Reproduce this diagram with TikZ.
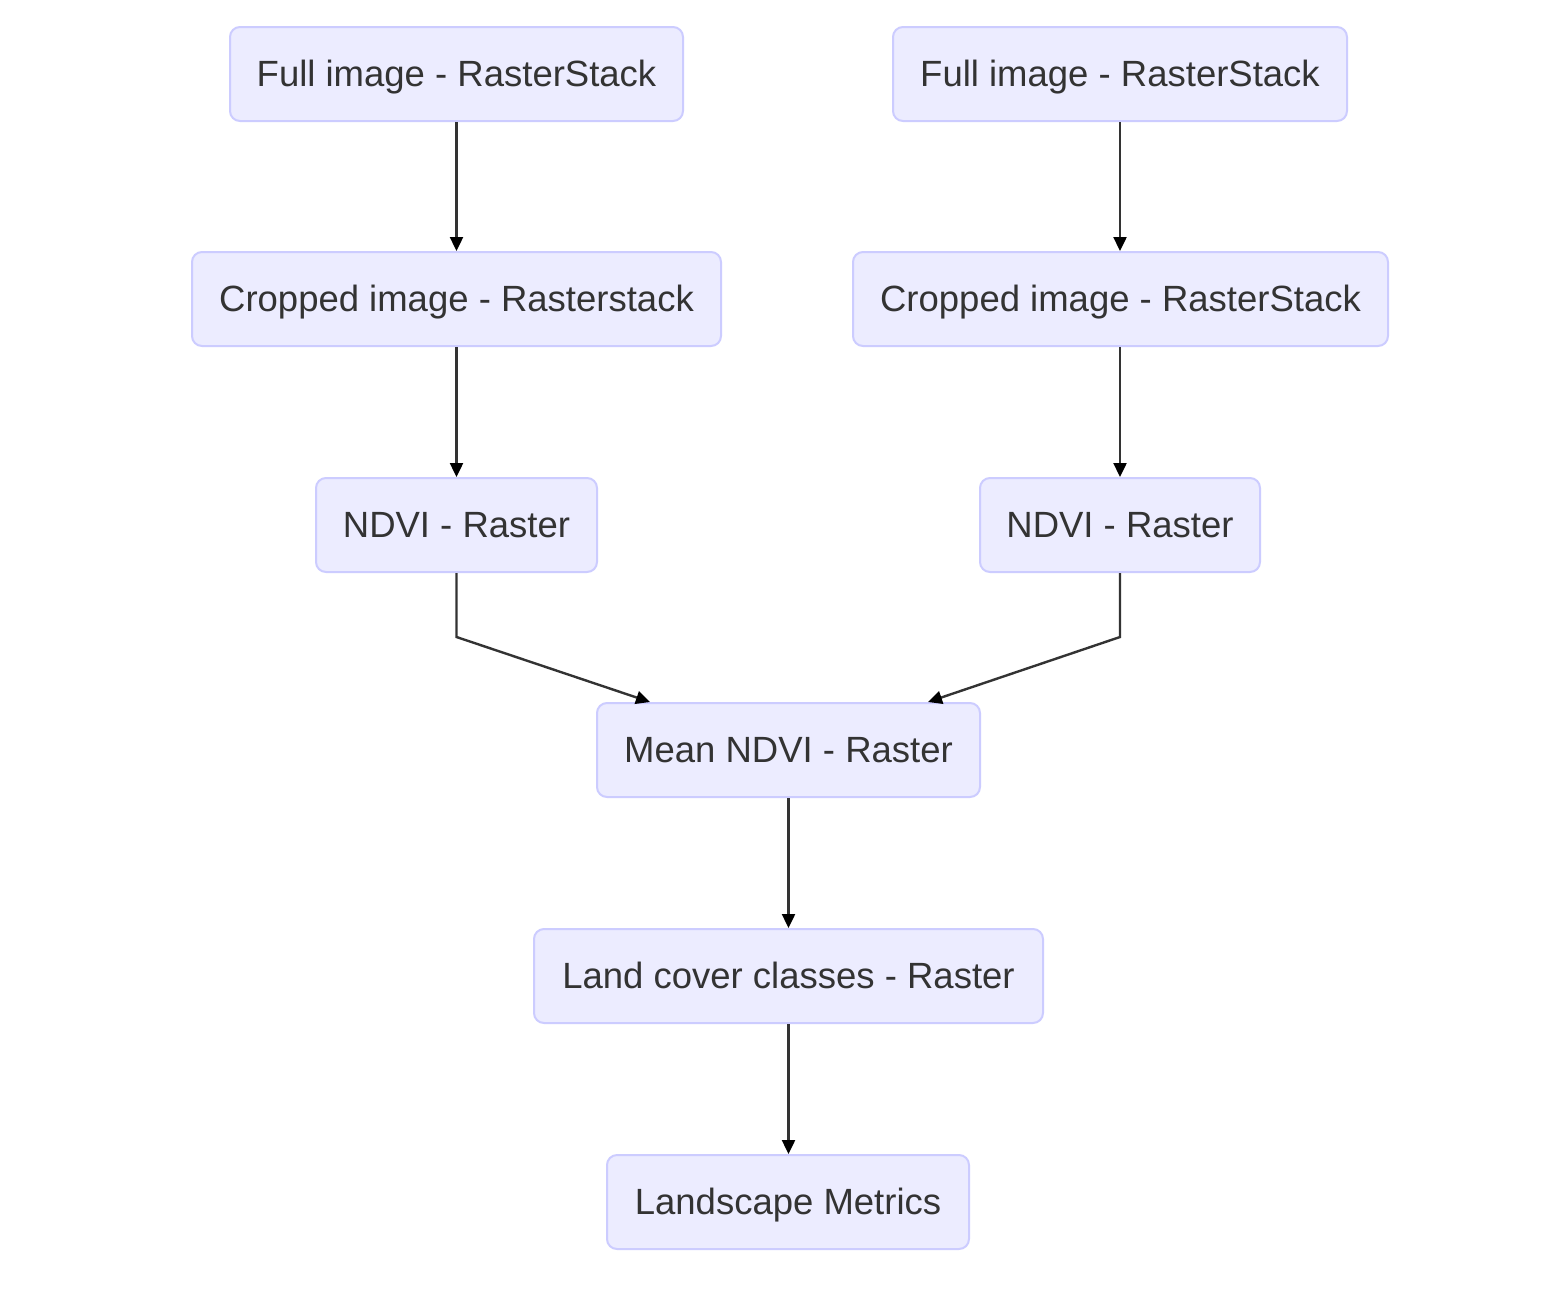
\documentclass[tikz,border=0pt]{standalone}
\usepackage{fontspec}
\setmainfont{Liberation Sans}
\usetikzlibrary{arrows.meta,calc}
\definecolor{boxfill}{HTML}{ECECFF}
\definecolor{boxdraw}{HTML}{CCCCFF}
\definecolor{txt}{HTML}{333333}
\definecolor{edge}{HTML}{333333}
\begin{document}
\begin{tikzpicture}[x=1pt,y=-1pt,
  box/.style={draw=boxdraw,fill=boxfill,line width=2pt,rounded corners=10pt,
    minimum height=94pt,inner xsep=0pt,text=txt,text height=29pt,text depth=4pt,
    font=\fontsize{36.5}{42}\selectfont},
  flow/.style={draw=edge,line width=2.4pt,-{Triangle[length=14pt,width=13pt,color=black]}}]
\useasboundingbox[fill=white] (0,0) rectangle (1558,1288);
\node[box,minimum width=453pt] (a1) at (456.5,74) {Full image - RasterStack};
\node[box,minimum width=454pt] (a2) at (1120,74) {Full image - RasterStack};
\node[box,minimum width=529pt] (b1) at (456.5,299) {Cropped image - Rasterstack};
\node[box,minimum width=535pt] (b2) at (1120.5,299) {Cropped image - RasterStack};
\node[box,minimum width=281pt] (c1) at (456.5,525) {NDVI - Raster};
\node[box,minimum width=280pt] (c2) at (1120,525) {NDVI - Raster};
\node[box,minimum width=383pt] (d) at (788.5,750) {Mean NDVI - Raster};
\node[box,minimum width=509pt] (e) at (788.5,976) {Land cover classes - Raster};
\node[box,minimum width=362pt] (f) at (788,1202) {Landscape Metrics};
\coordinate (j1) at (456.5,637);
\coordinate (j2) at (1120,637);
\draw[flow] (a1.south) -- (b1.north);
\draw[flow] (a2) -- (a2|-b2.north);
\draw[flow] (b1.south) -- (c1.north);
\draw[flow] (c2|-b2.south) -- (c2.north);
\draw[flow] (c1.south) -- (j1) -- ([xshift=-138.5pt]d.north);
\draw[flow] (c2.south) -- (j2) -- ([xshift=139.5pt]d.north);
\draw[flow] (d.south) -- (e.north);
\draw[flow] (e.south) -- (e.south|-f.north);
\end{tikzpicture}
\end{document}
